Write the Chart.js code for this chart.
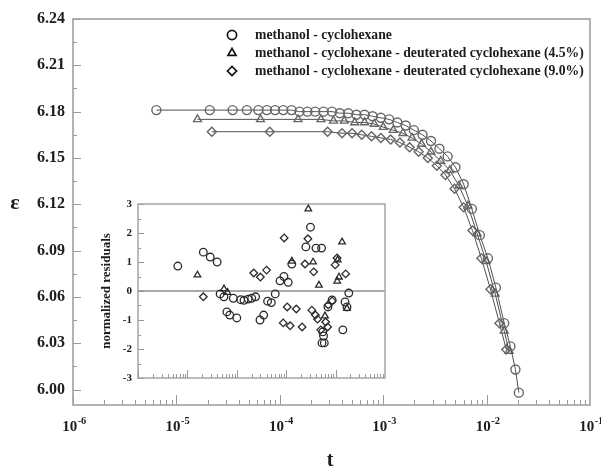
<!DOCTYPE html>
<html><head><meta charset="utf-8">
<script src="https://cdn.jsdelivr.net/npm/chart.js@4/dist/chart.umd.min.js"></script>
<style>
html,body{margin:0;padding:0;background:#fff;}
#wrap{position:relative;width:601px;height:468px;overflow:hidden;background:#fff;}
#main{position:absolute;left:0;top:0;}
#inset{position:absolute;left:95px;top:195px;}
</style></head><body>
<div id="wrap">
<canvas id="main" width="601" height="468"></canvas>
<canvas id="inset" width="300" height="195"></canvas>
</div>
<script>
// ---------- data ----------
const seriesNames = [
  'methanol - cyclohexane',
  'methanol - cyclohexane - deuterated cyclohexane (4.5%)',
  'methanol - cyclohexane - deuterated cyclohexane (9.0%)'
];
const xTickValues = [1e-6, 1e-5, 1e-4, 1e-3, 1e-2, 1e-1];
const xTickBase = '10';
const xTickExponents = ['-6', '-5', '-4', '-3', '-2', '-1'];
const yTickValues = [6.00, 6.03, 6.06, 6.09, 6.12, 6.15, 6.18, 6.21, 6.24];
const residTickValues = [-3, -2, -1, 0, 1, 2, 3];

const circT = [6.4e-6, 2.1e-5, 3.5e-5, 4.8e-5, 6.2e-5, 7.5e-5, 9.0e-5, 1.08e-4, 1.3e-4, 1.55e-4, 1.85e-4, 2.2e-4, 2.65e-4, 3.2e-4, 3.8e-4, 4.6e-4, 5.5e-4, 6.6e-4, 7.9e-4, 9.5e-4, 1.14e-3, 1.37e-3, 1.65e-3, 1.98e-3, 2.4e-3, 2.9e-3, 3.5e-3, 4.2e-3, 5.0e-3, 6.0e-3, 7.2e-3, 8.6e-3, 1.03e-2, 1.23e-2, 1.48e-2, 1.7e-2, 1.9e-2, 2.05e-2];
const circE = [6.181, 6.181, 6.181, 6.181, 6.181, 6.181, 6.181, 6.181, 6.181, 6.180, 6.180, 6.180, 6.180, 6.180, 6.179, 6.179, 6.178, 6.178, 6.177, 6.176, 6.175, 6.173, 6.171, 6.168, 6.165, 6.161, 6.156, 6.151, 6.144, 6.133, 6.117, 6.100, 6.085, 6.066, 6.043, 6.028, 6.013, 5.998];

const triT = [1.6e-5, 6.5e-5, 1.5e-4, 2.5e-4, 3.3e-4, 4.2e-4, 5.3e-4, 6.6e-4, 8.2e-4, 1.0e-3, 1.25e-3, 1.55e-3, 1.9e-3, 2.35e-3, 2.9e-3, 3.6e-3, 4.4e-3, 5.4e-3, 6.6e-3, 8.1e-3, 9.9e-3, 1.21e-2, 1.48e-2, 1.65e-2];
const triE = [6.175, 6.175, 6.175, 6.175, 6.174, 6.174, 6.173, 6.173, 6.172, 6.170, 6.168, 6.166, 6.163, 6.159, 6.154, 6.148, 6.142, 6.132, 6.119, 6.101, 6.083, 6.062, 6.038, 6.025];

const diaT = [2.2e-5, 8.0e-5, 2.9e-4, 4.0e-4, 5.0e-4, 6.2e-4, 7.7e-4, 9.5e-4, 1.18e-3, 1.45e-3, 1.8e-3, 2.2e-3, 2.7e-3, 3.3e-3, 4.0e-3, 4.9e-3, 6.0e-3, 7.3e-3, 8.9e-3, 1.09e-2, 1.33e-2, 1.55e-2];
const diaE = [6.167, 6.167, 6.167, 6.166, 6.166, 6.165, 6.164, 6.163, 6.162, 6.160, 6.157, 6.154, 6.150, 6.145, 6.139, 6.130, 6.118, 6.103, 6.085, 6.065, 6.043, 6.026];

const resCircT = [6.4e-6, 2.1e-5, 2.9e-5, 4.0e-5, 4.6e-5, 5.5e-5, 6.3e-5, 7.2e-5, 8.5e-5, 1.0e-4, 1.2e-4, 1.4e-4, 1.7e-4, 2.0e-4, 2.4e-4, 2.95e-4, 3.5e-4, 4.2e-4, 5.0e-4, 6.0e-4, 7.5e-4, 9.0e-4, 1.1e-3, 1.3e-3, 2.5e-3, 3.1e-3, 4.0e-3, 5.2e-3, 5.3e-3, 5.5e-3, 5.7e-3, 5.9e-3, 7.0e-3, 8.5e-3, 1.4e-2, 1.55e-2, 1.7e-2, 1.85e-2];
const resCircR = [0.86, 1.34, 1.17, 1.00, -0.10, -0.20, -0.72, -0.83, -0.25, -0.93, -0.30, -0.32, -0.28, -0.25, -0.20, -1.00, -0.83, -0.35, -0.40, -0.10, 0.35, 0.50, 0.30, 0.93, 1.52, 2.20, 1.48, 1.48, -1.79, -1.41, -1.55, -1.79, -0.55, -0.31, -1.34, -0.38, -0.55, -0.07];

const resTriT = [1.6e-5, 5.5e-5, 6.5e-5, 1.3e-3, 2.8e-3, 3.5e-3, 4.6e-3, 6.1e-3, 1.08e-2, 1.1e-2, 1.17e-2, 1.35e-2, 1.7e-2];
const resTriR = [0.55, 0.07, -0.05, 1.03, 2.83, 1.00, 0.20, -0.86, 0.34, 1.07, 0.48, 1.69, -0.60];

const resDiaT = [2.1e-5, 2.2e-4, 3.0e-4, 4.0e-4, 8.7e-4, 9.1e-4, 1.05e-3, 1.2e-3, 1.6e-3, 2.1e-3, 2.4e-3, 2.75e-3, 3.3e-3, 3.6e-3, 3.9e-3, 4.3e-3, 5.0e-3, 6.3e-3, 6.9e-3, 7.1e-3, 8.5e-3, 9.8e-3, 1.07e-2, 1.6e-2];
const resDiaR = [-0.20, 0.62, 0.48, 0.72, -1.10, 1.83, -0.55, -1.20, -0.62, -1.24, 0.93, 1.80, -0.66, 0.66, -0.83, -0.97, -1.34, -1.07, -1.24, -0.48, -0.34, 0.90, 1.14, 0.59];

// ---------- helpers ----------
const SERIF = '"Liberation Serif", "Times New Roman", serif';
const TEXT = '#1c1c1c';
const pts = (xs, ys) => xs.map((v, i) => ({x: v, y: ys[i]}));
const styles = ['circle', 'triangle', 'rectRot'];

const axisDeco = {
  id: 'axisDeco',
  beforeDatasetsDraw(chart, args, o) {
    const {ctx, chartArea: a, scales: {x, y}} = chart;
    ctx.save();
    ctx.strokeStyle = o.tickColor;
    ctx.lineWidth = 1;
    ctx.beginPath();
    for (let e = -6; e < -1; e++) {
      for (let k = 1; k < 10; k++) {
        const v = k * Math.pow(10, e);
        const px = Math.round(x.getPixelForValue(v)) + 0.5;
        const len = k === 1 ? o.xMajor : o.xMinor;
        ctx.moveTo(px, a.bottom); ctx.lineTo(px, a.bottom - len);
      }
    }
    const yt = o.yTicks;
    for (let i = 0; i < yt.length; i++) {
      const py = Math.round(y.getPixelForValue(yt[i])) + 0.5;
      ctx.moveTo(a.left, py); ctx.lineTo(a.left + o.yMajor, py);
      if (i < yt.length - 1) {
        const pm = Math.round(y.getPixelForValue((yt[i] + yt[i + 1]) / 2)) + 0.5;
        ctx.moveTo(a.left, pm); ctx.lineTo(a.left + o.yMinor, pm);
      }
    }
    ctx.stroke();
    if (o.zeroLine) {
      const pz = y.getPixelForValue(0);
      ctx.strokeStyle = o.zeroColor; ctx.lineWidth = 1.6;
      ctx.beginPath(); ctx.moveTo(a.left, pz); ctx.lineTo(a.right, pz); ctx.stroke();
    }
    ctx.strokeStyle = o.frameColor; ctx.lineWidth = o.frameWidth;
    ctx.strokeRect(a.left, a.top, a.right - a.left, a.bottom - a.top);
    ctx.restore();
  }
};

const mainText = {
  id: 'mainText',
  afterDraw(chart) {
    const {ctx, chartArea: a, scales: {x}} = chart;
    ctx.save();
    // legend
    const rows = [35, 53, 71];
    for (let i = 0; i < 3; i++) {
      ctx.save();
      ctx.strokeStyle = '#111';
      ctx.fillStyle = 'rgba(255,255,255,0)';
      ctx.lineWidth = 1.7;
      Chart.helpers.drawPoint(ctx, {pointStyle: styles[i], radius: 4.6, rotation: 0, borderWidth: 1.7}, 232, rows[i]);
      ctx.restore();
    }
    ctx.fillStyle = TEXT;
    ctx.font = 'bold 13.7px ' + SERIF;
    ctx.textAlign = 'left'; ctx.textBaseline = 'middle';
    for (let i = 0; i < 3; i++) ctx.fillText(seriesNames[i], 255, rows[i]);
    // x tick labels with superscript exponent
    ctx.textBaseline = 'alphabetic';
    const baseFont = 'bold 15px ' + SERIF, expFont = 'bold 10.5px ' + SERIF;
    xTickValues.forEach((v, i) => {
      const px = x.getPixelForValue(v);
      ctx.font = baseFont; const wb = ctx.measureText(xTickBase).width;
      ctx.font = expFont; const we = ctx.measureText(xTickExponents[i]).width;
      const start = px - (wb + we) / 2 + 1;
      ctx.font = baseFont; ctx.fillText(xTickBase, start, 431);
      ctx.font = expFont; ctx.fillText(xTickExponents[i], start + wb + 0.5, 424);
    });
    // axis titles
    ctx.textAlign = 'center'; ctx.textBaseline = 'middle';
    ctx.font = 'bold 22px ' + SERIF;
    ctx.fillText('\u03B5', 15, 203);
    ctx.font = 'bold 20px ' + SERIF;
    ctx.fillText('t', 330, 461);
    ctx.restore();
  }
};

// ---------- main chart ----------
new Chart(document.getElementById('main').getContext('2d'), {
  type: 'scatter',
  data: {
    datasets: [
      {label: seriesNames[0], data: pts(circT, circE), pointStyle: 'circle'},
      {label: seriesNames[1], data: pts(triT, triE), pointStyle: 'triangle'},
      {label: seriesNames[2], data: pts(diaT, diaE), pointStyle: 'rectRot'}
    ].map(d => Object.assign(d, {
      showLine: true, borderColor: '#505050', borderWidth: 1,
      pointRadius: 4.5, pointBorderColor: '#666666', pointBackgroundColor: 'rgba(255,255,255,0)',
      pointBorderWidth: 1.4, tension: 0
    }))
  },
  options: {
    responsive: false, animation: false, devicePixelRatio: 1,
    layout: {padding: {left: 0, right: 11, top: 19, bottom: 0}},
    plugins: {
      legend: {display: false}, tooltip: {enabled: false},
      axisDeco: {tickColor: '#9a9a9a', frameColor: '#a0a0a0', frameWidth: 1.6, xMajor: 10, xMinor: 5, yMajor: 8, yMinor: 4, yTicks: yTickValues, zeroLine: false}
    },
    scales: {
      x: {
        type: 'logarithmic', min: 1e-6, max: 1e-1,
        afterBuildTicks(s) { s.ticks = xTickValues.map(v => ({value: v})); },
        afterFit(s) { s.height = 63; s.paddingLeft = 0; s.paddingRight = 0; },
        ticks: {display: false},
        grid: {display: false, drawTicks: false}, border: {display: false}
      },
      y: {
        min: 5.99, max: 6.24,
        afterBuildTicks(s) { s.ticks = yTickValues.map(v => ({value: v})); },
        afterFit(s) { s.width = 73; s.paddingTop = 0; s.paddingBottom = 0; },
        ticks: {autoSkip: false, padding: 8, color: TEXT,
          font: {family: SERIF, size: 16, weight: 'bold'},
          callback: v => v.toFixed(2)},
        grid: {display: false, drawTicks: false}, border: {display: false}
      }
    }
  },
  plugins: [axisDeco, mainText]
});

// ---------- inset chart ----------
new Chart(document.getElementById('inset').getContext('2d'), {
  type: 'scatter',
  data: {
    datasets: [
      {label: seriesNames[0], data: pts(resCircT, resCircR), pointStyle: 'circle'},
      {label: seriesNames[1], data: pts(resTriT, resTriR), pointStyle: 'triangle'},
      {label: seriesNames[2], data: pts(resDiaT, resDiaR), pointStyle: 'rectRot'}
    ].map(d => Object.assign(d, {
      showLine: false, pointRadius: 3.8, pointBorderColor: '#2a2a2a',
      pointBackgroundColor: 'rgba(255,255,255,0)', pointBorderWidth: 1.3
    }))
  },
  options: {
    responsive: false, animation: false, devicePixelRatio: 1,
    layout: {padding: {left: 0, right: 10, top: 9, bottom: 12}},
    plugins: {
      legend: {display: false}, tooltip: {enabled: false},
      axisDeco: {tickColor: '#9a9a9a', frameColor: '#a0a0a0', frameWidth: 1.4, xMajor: 8, xMinor: 4, yMajor: 6, yMinor: 3, yTicks: residTickValues, zeroLine: true, zeroColor: '#8c8c8c'}
    },
    scales: {
      x: {
        type: 'logarithmic', min: 1e-6, max: 1e-1,
        afterFit(s) { s.height = 0; s.paddingLeft = 0; s.paddingRight = 0; },
        ticks: {display: false}, grid: {display: false, drawTicks: false}, border: {display: false}
      },
      y: {
        min: -3, max: 3,
        afterBuildTicks(s) { s.ticks = residTickValues.map(v => ({value: v})); },
        afterFit(s) { s.width = 43; s.paddingTop = 0; s.paddingBottom = 0; },
        ticks: {autoSkip: false, padding: 6, color: TEXT,
          font: {family: SERIF, size: 11, weight: 'bold'}},
        title: {display: true, text: 'normalized residuals', color: TEXT,
          font: {family: SERIF, size: 13, weight: 'bold'}, padding: {top: 4, bottom: 0}},
        grid: {display: false, drawTicks: false}, border: {display: false}
      }
    }
  },
  plugins: [axisDeco]
});
</script>
</body></html>
